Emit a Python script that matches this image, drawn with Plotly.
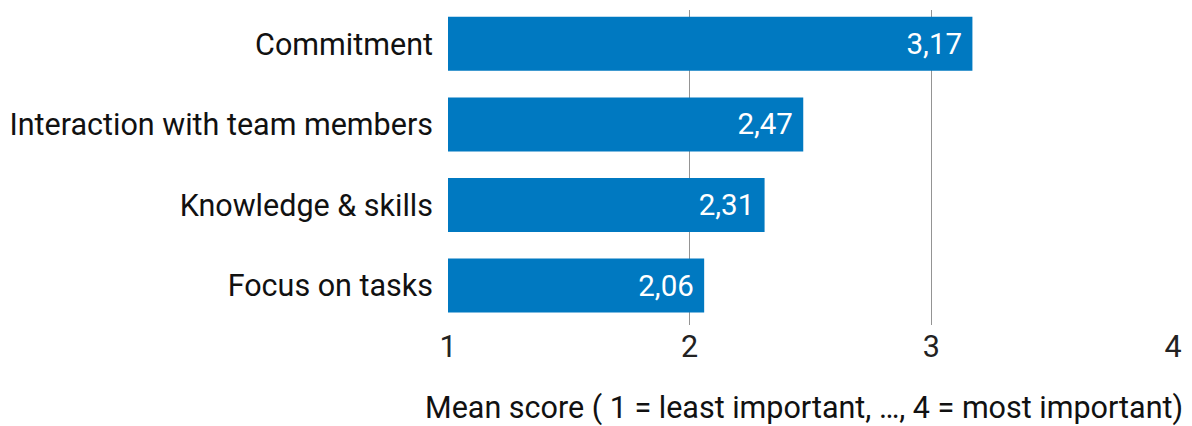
import plotly.graph_objects as go

categories = ["Commitment", "Interaction with team members", "Knowledge & skills", "Focus on tasks"]
values = [3.17, 2.47, 2.31, 2.06]
tick_vals = [1, 2, 3, 4]
tick_text = ["1", "2", "3", "4"]
axis_title = "Mean score ( 1 = least important, …, 4 = most important)"
baseline = 1

labels = [f"{v:.2f}".replace(".", ",") + "\u00a0" for v in values]

fig = go.Figure(go.Bar(
    y=categories,
    x=[v - baseline for v in values],
    base=baseline,
    orientation="h",
    marker=dict(color="#0079C1", line=dict(width=0)),
    width=0.67,
    text=labels,
    textposition="inside",
    insidetextanchor="end",
    textfont=dict(color="white", size=29.5, family="Roboto"),
    constraintext="none",
    hoverinfo="skip",
))

fig.update_layout(
    width=1184, height=418,
    margin=dict(l=440, r=19, t=2, b=101),
    paper_bgcolor="white", plot_bgcolor="white",
    font=dict(family="Roboto", size=30.5, color="#111111"),
    showlegend=False,
    xaxis=dict(
        range=[1, 4], tickvals=tick_vals, ticktext=tick_text,
        showgrid=True, gridcolor="#949494", gridwidth=1,
        zeroline=False, showline=False, ticks="", ticklen=0,
        tickfont=dict(size=30.5, color="#222222"),
    ),
    yaxis=dict(
        categoryorder="array", categoryarray=categories,
        range=[3.49, -0.42], showgrid=False, zeroline=False, showline=False,
        ticks="", ticklabelstandoff=14,
        tickfont=dict(size=30.5, color="#111111"),
    ),
    annotations=[dict(
        text=axis_title, xref="paper", yref="paper",
        x=1.0166, y=-0.2635, xanchor="right", yanchor="middle",
        showarrow=False, font=dict(size=30.5, color="#111111"),
    )],
)

fig.write_html("out.html")
